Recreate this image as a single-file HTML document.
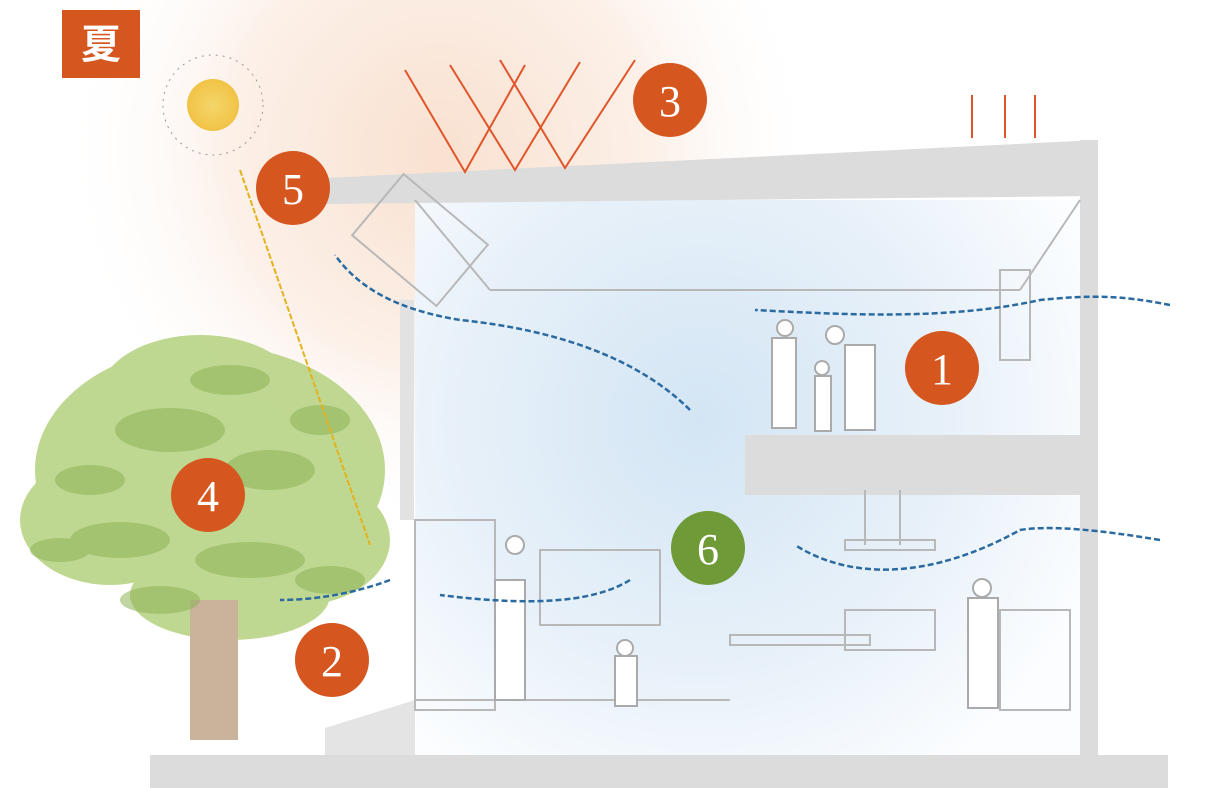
<!DOCTYPE html>
<html><head><meta charset="utf-8"><style>
html,body{margin:0;padding:0;background:#fff;}
svg{display:block}
text{font-family:"Liberation Serif",serif}
</style></head><body>
<svg width="1214" height="788" viewBox="0 0 1214 788" xmlns="http://www.w3.org/2000/svg">
<defs>
<radialGradient id="blue" cx="700" cy="420" r="420" gradientUnits="userSpaceOnUse">
<stop offset="0" stop-color="#d3e5f4"/><stop offset="0.6" stop-color="#e8f1f9"/><stop offset="1" stop-color="#fbfdff"/>
</radialGradient>
<radialGradient id="warm" cx="440" cy="150" r="380" gradientUnits="userSpaceOnUse">
<stop offset="0" stop-color="#f9e1d0"/><stop offset="0.55" stop-color="#fcf0e8"/><stop offset="1" stop-color="#fff" stop-opacity="0"/>
</radialGradient>
<radialGradient id="sun" cx="213" cy="105" r="30" gradientUnits="userSpaceOnUse">
<stop offset="0" stop-color="#f5d66a"/><stop offset="1" stop-color="#f0c040"/>
</radialGradient>
</defs>
<rect width="1214" height="788" fill="#fff"/>
<rect x="0" y="0" width="1214" height="788" fill="url(#warm)"/>
<polygon points="415,200 1080,200 1080,755 415,755" fill="url(#blue)"/>
<polygon points="325,178 1097,140 1097,196 325,204" fill="#dcdcdc"/>
<rect x="1080" y="140" width="18" height="615" fill="#dcdcdc"/>
<rect x="400" y="300" width="14" height="220" fill="#e2e2e2"/>
<rect x="745" y="435" width="335" height="60" fill="#dcdcdc"/>
<rect x="150" y="755" width="1018" height="33" fill="#dcdcdc"/>
<polygon points="325,728 415,700 415,755 325,755" fill="#e4e4e4"/>
<g stroke="#b8b8b8" stroke-width="2" fill="none">
<line x1="415" y1="200" x2="490" y2="290"/><line x1="1080" y1="200" x2="1020" y2="290"/>
<line x1="490" y1="290" x2="1020" y2="290"/>
<rect x="540" y="550" width="120" height="75"/>
<rect x="415" y="520" width="80" height="190"/>
<line x1="415" y1="700" x2="730" y2="700"/>
<rect x="730" y="635" width="140" height="10"/>
<rect x="845" y="610" width="90" height="40"/>
<rect x="365" y="200" width="110" height="80" transform="rotate(40 420 240)"/>
<line x1="865" y1="490" x2="865" y2="545"/><line x1="900" y1="490" x2="900" y2="545"/>
<rect x="845" y="540" width="90" height="10"/>
<rect x="1000" y="610" width="70" height="100"/>
<rect x="1000" y="270" width="30" height="90"/>
</g>
<g fill="#fff" stroke="#aaa" stroke-width="2">
<circle cx="785" cy="328" r="8"/><rect x="772" y="338" width="24" height="90"/>
<circle cx="835" cy="335" r="9"/><rect x="845" y="345" width="30" height="85"/>
<circle cx="822" cy="368" r="7"/><rect x="815" y="376" width="16" height="55"/>
<circle cx="515" cy="545" r="9"/><rect x="495" y="580" width="30" height="120"/>
<circle cx="625" cy="648" r="8"/><rect x="615" y="656" width="22" height="50"/>
<circle cx="982" cy="588" r="9"/><rect x="968" y="598" width="30" height="110"/>
</g>
<!-- tree -->
<g fill="#b9d486" opacity="0.9">
<ellipse cx="210" cy="470" rx="175" ry="125"/>
<ellipse cx="200" cy="395" rx="100" ry="60"/>
<ellipse cx="110" cy="520" rx="90" ry="65"/>
<ellipse cx="300" cy="540" rx="90" ry="65"/>
<ellipse cx="230" cy="595" rx="100" ry="45"/>
</g>
<rect x="190" y="600" width="48" height="140" fill="#c9b39b"/>
<g fill="#8db357" opacity="0.55">
<ellipse cx="170" cy="430" rx="55" ry="22"/><ellipse cx="270" cy="470" rx="45" ry="20"/>
<ellipse cx="120" cy="540" rx="50" ry="18"/><ellipse cx="250" cy="560" rx="55" ry="18"/>
<ellipse cx="90" cy="480" rx="35" ry="15"/><ellipse cx="230" cy="380" rx="40" ry="15"/>
<ellipse cx="320" cy="420" rx="30" ry="15"/><ellipse cx="60" cy="550" rx="30" ry="12"/>
<ellipse cx="330" cy="580" rx="35" ry="14"/><ellipse cx="160" cy="600" rx="40" ry="14"/>
</g>
<circle cx="213" cy="105" r="26" fill="url(#sun)"/>
<circle cx="213" cy="105" r="50" fill="none" stroke="#999" stroke-width="1" stroke-dasharray="2 5"/>
<line x1="240" y1="170" x2="370" y2="545" stroke="#e3b21d" stroke-width="2" stroke-dasharray="6 2"/>
<g stroke="#e0562a" stroke-width="2" fill="none">
<polyline points="405,70 465,172 525,65"/>
<polyline points="450,65 515,170 580,62"/>
<polyline points="500,60 565,168 635,60"/>
<line x1="972" y1="95" x2="972" y2="138"/><line x1="1005" y1="95" x2="1005" y2="138"/><line x1="1035" y1="95" x2="1035" y2="138"/>
</g>
<g stroke="#2a6aa0" stroke-width="2.5" fill="none" stroke-dasharray="6 3">
<path d="M1170,305 C1120,295 1090,295 1040,300 C950,320 850,315 755,310"/>
<path d="M690,410 C640,360 560,330 460,320 C400,310 360,290 335,255"/>
<path d="M1160,540 C1100,530 1050,525 1020,530 C930,580 850,580 795,545"/>
<path d="M630,580 C590,605 520,605 440,595"/>
<path d="M390,580 C350,595 310,600 280,600"/>
</g>
<g fill="#d5561f">
<circle cx="670" cy="100" r="37"/><circle cx="293" cy="188" r="37"/>
<circle cx="942" cy="368" r="37"/><circle cx="208" cy="495" r="37"/>
<circle cx="332" cy="660" r="37"/>
</g>
<circle cx="708" cy="548" r="37" fill="#6e9a37"/>
<g fill="#fff" font-size="44" text-anchor="middle">
<text x="670" y="116">3</text><text x="293" y="204">5</text>
<text x="942" y="384">1</text><text x="208" y="511">4</text>
<text x="332" y="676">2</text><text x="708" y="564">6</text>
</g>
<rect x="62" y="10" width="78" height="68" fill="#d5561f"/>
<text x="101" y="58" fill="#fff" font-size="40" font-weight="bold" text-anchor="middle" style="font-family:'Liberation Sans','Noto Sans CJK JP',sans-serif">夏</text>
</svg>
</body></html>
